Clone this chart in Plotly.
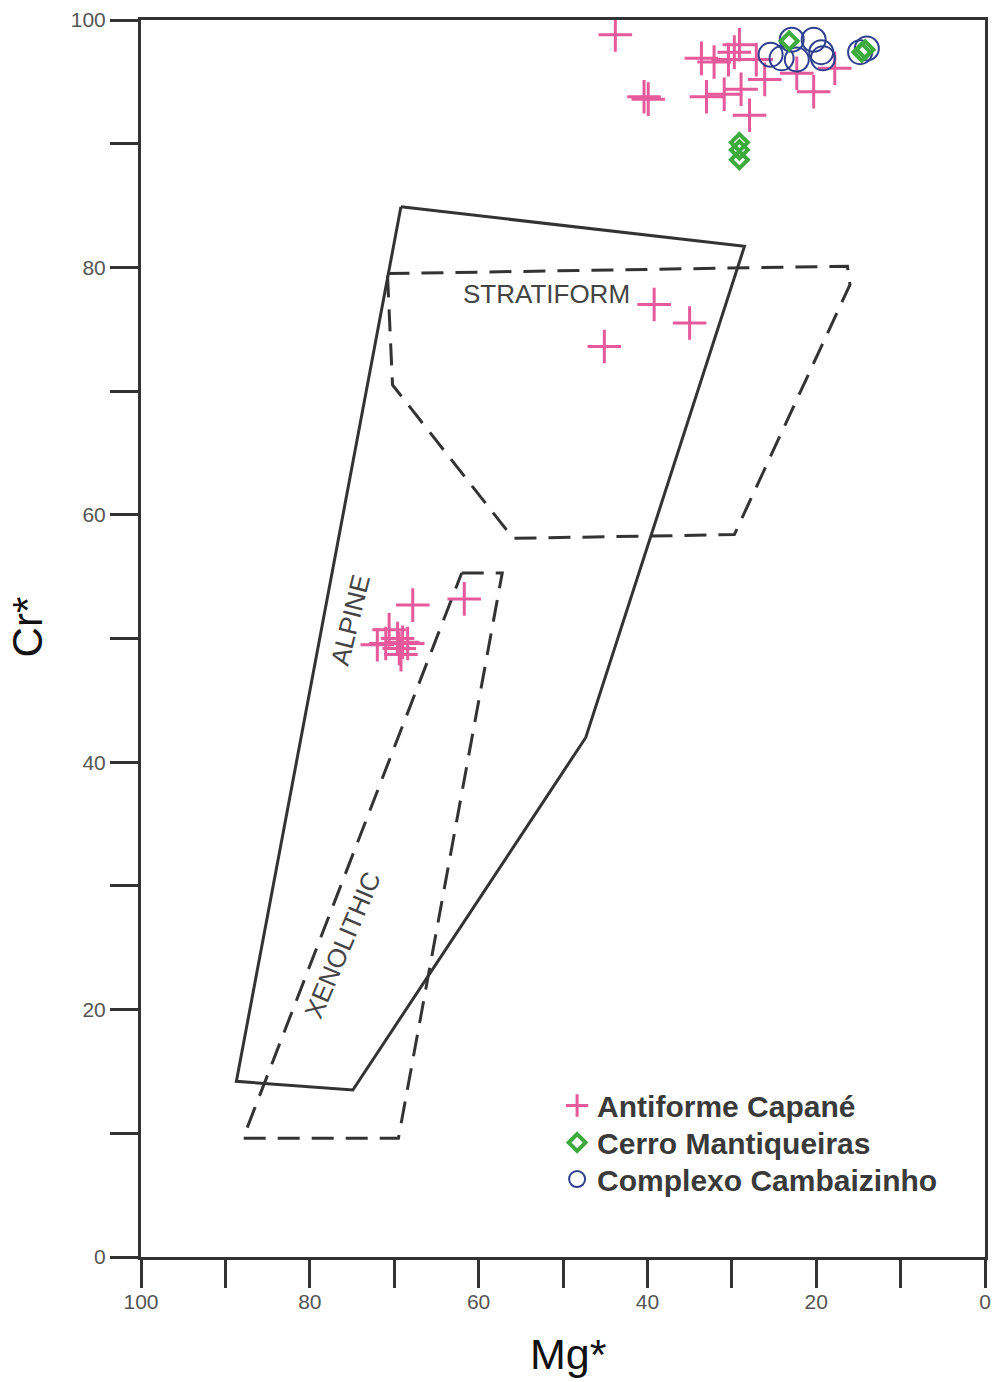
import plotly.graph_objects as go

# ---- data ----
capane_mg = [43.8, 40.4, 39.9, 33.6, 32.1, 30.4, 29.7, 29.1, 33.0, 30.9, 28.9, 26.1,
             27.9, 22.3, 20.3, 17.8, 27.1,
             39.2, 35.0, 45.1,
             67.8, 61.7, 71.0, 70.6, 69.6, 69.0, 69.4, 68.4, 69.2, 72.0]
capane_cr = [98.8, 93.8, 93.6, 96.9, 96.6, 96.8, 97.4, 98.0, 93.8, 94.0, 94.4, 95.2,
             92.3, 95.7, 94.2, 96.1, 96.8,
             77.0, 75.5, 73.6,
             52.7, 53.2, 49.6, 50.7, 50.0, 49.7, 49.2, 49.6, 48.7, 49.5]

mantiq_mg = [29.1, 29.1, 29.1, 23.2, 14.6, 14.2]
mantiq_cr = [90.1, 89.5, 88.7, 98.3, 97.4, 97.6]

camb_mg = [25.4, 24.1, 22.9, 22.3, 20.3, 19.4, 19.2, 14.8, 14.0]
camb_cr = [97.2, 96.9, 98.4, 96.8, 98.4, 97.4, 96.9, 97.4, 97.7]

# field boundaries
alpine_mg = [69.2, 28.5, 47.3, 74.9, 88.7, 69.2]
alpine_cr = [84.9, 81.7, 42.0, 13.5, 14.2, 84.9]

strat_mg = [70.8, 16.3, 16.0, 29.7, 55.9, 70.2, 70.8]
strat_cr = [79.5, 80.1, 78.6, 58.4, 58.1, 70.5, 79.5]

xeno_mg = [62.0, 57.2, 69.5, 87.9, 62.0]
xeno_cr = [55.3, 55.3, 9.6, 9.6, 55.3]

x_ticks = [0, 20, 40, 60, 80, 100]
y_ticks = [0, 20, 40, 60, 80, 100]

field_labels = ["STRATIFORM", "ALPINE", "XENOLITHIC"]
label_mg = [52.0, 75.2, 76.1]
label_cr = [77.85, 51.5, 25.2]
label_angle = [0, -76, -67]

# ---- style ----
AX = "#333333"
PINK = "#E65A9C"
GREEN = "#3DAA3D"
BLUE = "#2E3F8E"
DASH = "22px,12px"
FONT = "Liberation Sans, Arial, sans-serif"

fig = go.Figure()

fig.add_trace(go.Scatter(x=alpine_mg, y=alpine_cr, mode="lines",
                         line=dict(color=AX, width=3), showlegend=False, hoverinfo="skip"))
fig.add_trace(go.Scatter(x=strat_mg, y=strat_cr, mode="lines",
                         line=dict(color=AX, width=3, dash=DASH), showlegend=False, hoverinfo="skip"))
fig.add_trace(go.Scatter(x=xeno_mg, y=xeno_cr, mode="lines",
                         line=dict(color=AX, width=3, dash=DASH), showlegend=False, hoverinfo="skip"))

fig.add_trace(go.Scatter(x=capane_mg, y=capane_cr, mode="markers", name="Antiforme Capané",
                         legend="legend",
                         marker=dict(symbol="cross-thin", size=24, color=PINK,
                                     line=dict(color=PINK, width=3))))
fig.add_trace(go.Scatter(x=camb_mg, y=camb_cr, mode="markers", name="Complexo Cambaizinho",
                         legend="legend3",
                         marker=dict(symbol="circle-open", size=24, color=BLUE,
                                     line=dict(color=BLUE, width=2))))
fig.add_trace(go.Scatter(x=mantiq_mg, y=mantiq_cr, mode="markers", name="Cerro Mantiqueiras",
                         legend="legend2",
                         marker=dict(symbol="diamond-open", size=13, color=GREEN,
                                     line=dict(color=GREEN, width=4))))

for t, xm, yc, a in zip(field_labels, label_mg, label_cr, label_angle):
    fig.add_annotation(x=xm, y=yc, text=t, textangle=a, showarrow=False,
                       font=dict(family=FONT, size=26, color="#444444"))

axis_common = dict(showline=True, linewidth=3, linecolor=AX, mirror=True,
                   ticks="outside", ticklen=28, tickwidth=3, tickcolor=AX,
                   showgrid=False, zeroline=False, automargin=False,
                   tickfont=dict(family=FONT, size=21, color="#555555"))

fig.update_xaxes(range=[100, 0], tickvals=x_ticks, ticktext=[str(v) for v in x_ticks],
                 minor=dict(dtick=10, tick0=0, ticks="outside", ticklen=28, tickwidth=3,
                            tickcolor=AX, showgrid=False),
                 ticklabelstandoff=-4,
                 **axis_common)
fig.update_yaxes(range=[0, 100], tickvals=y_ticks, ticktext=[str(v) for v in y_ticks],
                 minor=dict(dtick=10, tick0=0, ticks="outside", ticklen=28, tickwidth=3,
                            tickcolor=AX, showgrid=False),
                 **axis_common)

fig.add_annotation(xref="paper", yref="paper", x=0.506, y=-0.0785, text="Mg*",
                   xanchor="center", yanchor="middle",
                   showarrow=False, font=dict(family=FONT, size=43, color="#111111"))
fig.add_annotation(xref="paper", yref="paper", x=-0.135, y=0.509, text="Cr*", textangle=-90,
                   xanchor="center", yanchor="middle",
                   showarrow=False, font=dict(family=FONT, size=42, color="#111111"))

leg_common = dict(x=0.493, xanchor="left", yanchor="middle",
                  bgcolor="rgba(0,0,0,0)", borderwidth=0,
                  font=dict(family=FONT, size=30, color="#3A3A3A", weight="bold"),
                  itemwidth=30)

fig.update_layout(
    width=994, height=1382,
    margin=dict(l=141, r=9, t=20, b=125, pad=0),
    paper_bgcolor="white", plot_bgcolor="white",
    legend=dict(y=0.1225, **leg_common),
    legend2=dict(y=0.0925, **leg_common),
    legend3=dict(y=0.0630, **leg_common),
    showlegend=True,
)

fig.write_html("out.html")
